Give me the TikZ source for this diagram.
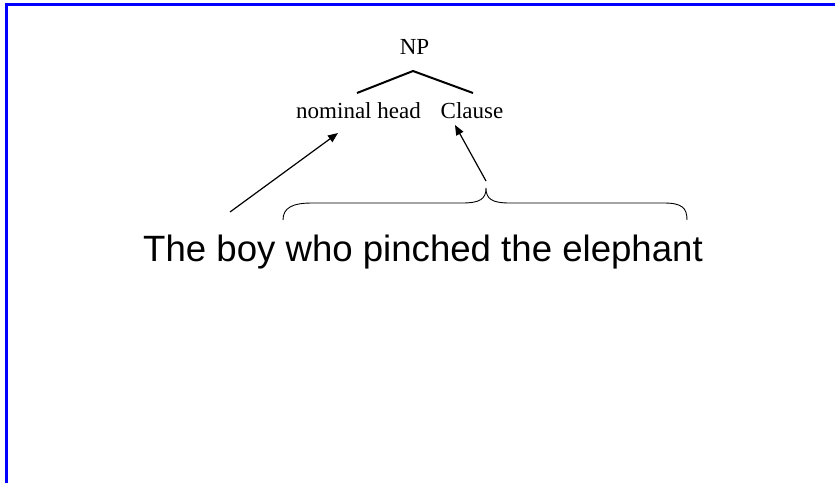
\documentclass[tikz,border=0pt]{standalone}
\usepackage{fontspec}
\setmainfont{Liberation Serif}
\newfontfamily\arialf{Liberation Sans}
\usetikzlibrary{arrows.meta}
\begin{document}
\begin{tikzpicture}[x=1pt,y=-1pt,
  serif/.style={inner sep=0pt,anchor=base,font=\fontsize{23}{26}\selectfont},
  big/.style={inner sep=0pt,anchor=base,font=\arialf\fontsize{36.6}{40}\selectfont},
  treeline/.style={line width=2pt},
  pointer/.style={line width=1.2pt,-{Triangle[length=10pt,width=8pt]}},
  bracel/.style={line width=0.9pt}]
\useasboundingbox (0,0) rectangle (835,483);
\fill[white] (0,0) rectangle (835,483);
% frame
\draw[blue,line width=3pt] (6.5,483) -- (6.5,4.5) -- (835,4.5);
% nodes
\node[serif] (np) at (414.5,54) {NP};
\node[serif] (nh) at (358.5,118) {nominal head};
\node[serif] (cl) at (472,118) {Clause};
\node[big] (sent) at (423,261) {The boy who pinched the elephant};
% tree
\coordinate (apex) at (413,71);
\coordinate (lft) at (357,93);
\coordinate (rgt) at (473,93);
\draw[treeline] (lft) -- (apex) -- (rgt);
% brace
\coordinate (tip) at (486,188);
\draw[bracel] (283,220) .. controls (283,208) and (292,203) .. (312,203)
  -- (462,203) .. controls (480,203) and (486,199) .. (tip)
  .. controls (486,199) and (492,203) .. (510,203)
  -- (664,203) .. controls (682,203) and (687,208) .. (687,220);
% arrows
\coordinate (a1s) at (230,212);
\coordinate (a1e) at (338,133);
\coordinate (a2s) at (486,181);
\coordinate (a2e) at (455,125);
\draw[pointer] (a1s) -- (a1e);
\draw[pointer] (a2s) -- (a2e);
\end{tikzpicture}
\end{document}
